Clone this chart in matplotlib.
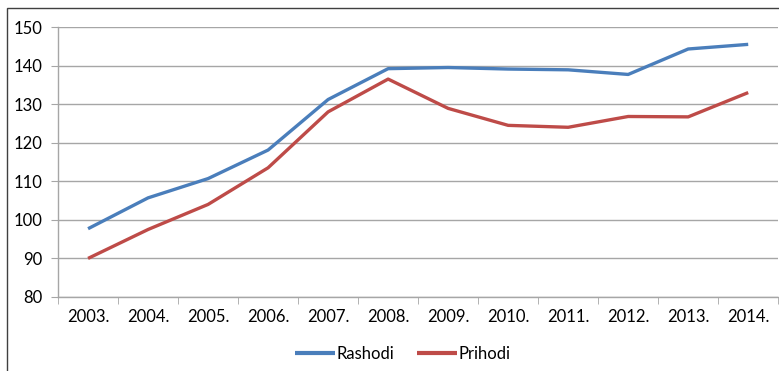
import numpy as np
import matplotlib.pyplot as plt
from matplotlib.patches import Rectangle

# Godine i vrijednosti serija
years = ['2003.', '2004.', '2005.', '2006.', '2007.', '2008.',
         '2009.', '2010.', '2011.', '2012.', '2013.', '2014.']
rashodi = [97.7, 105.7, 110.7, 118.1, 131.2, 139.2, 139.5, 139.1, 138.9, 137.7, 144.3, 145.5]
prihodi = [90.0, 97.5, 104.0, 113.5, 128.0, 136.5, 128.9, 124.5, 124.0, 126.8, 126.7, 133.0]

plt.rcParams['font.family'] = ['Lato', 'DejaVu Sans']

fig = plt.figure(figsize=(7.79, 3.71), dpi=100)
ax = fig.add_axes([0.0745, 0.1995, 0.9245, 0.7277])

x = np.arange(len(years))
ax.plot(x, rashodi, color='#4a7ebb', linewidth=2.4, label='Rashodi', solid_capstyle='butt')
ax.plot(x, prihodi, color='#be4b48', linewidth=2.4, label='Prihodi', solid_capstyle='butt')

ax.set_xlim(-0.5, len(years) - 0.5)
ax.set_ylim(80, 150)
ax.set_yticks(np.arange(80, 151, 10))
ax.set_xticks(x)
ax.set_xticklabels(years)
ax.set_xticks(np.arange(-0.5, len(years)), minor=True)

ax.grid(axis='y', color='#a6a6a6', linewidth=1.0)
ax.set_axisbelow(True)
for side in ['top', 'right']:
    ax.spines[side].set_visible(False)
for side in ['left', 'bottom']:
    ax.spines[side].set_color('#a6a6a6')
    ax.spines[side].set_linewidth(1.0)

ax.tick_params(axis='y', which='major', length=5, color='#a6a6a6', labelsize=12, pad=6)
ax.tick_params(axis='x', which='major', length=0, labelsize=12, pad=9)
ax.tick_params(axis='x', which='minor', length=5, color='#a6a6a6', direction='out')

leg = fig.legend(loc='lower center', bbox_to_anchor=(0.517, -0.015), ncol=2, frameon=False,
                 fontsize=12, handlelength=2.4, handletextpad=0.1, columnspacing=1.4)
for line in leg.get_lines():
    line.set_linewidth(3.0)

# okvir oko grafikona
fig.patches.append(Rectangle((7 / 779, -0.1), 1.2, 1.1 - 8 / 371, transform=fig.transFigure,
                             fill=False, edgecolor='#404040', linewidth=1.0))

fig.savefig('out.png', dpi=100)
